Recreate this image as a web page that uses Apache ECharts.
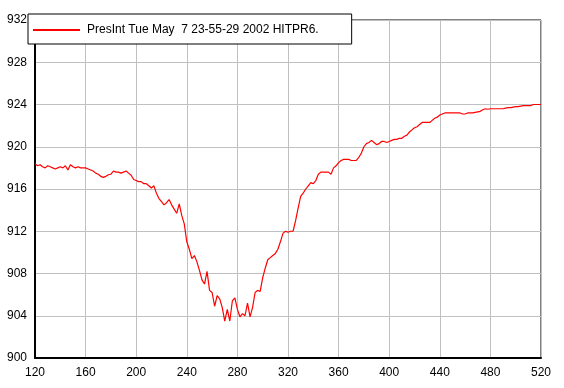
<!DOCTYPE html>
<html>
<head>
<meta charset="utf-8">
<script src="https://cdn.jsdelivr.net/npm/echarts@6/dist/echarts.min.js"></script>
<style>
html,body{margin:0;padding:0;background:#fff;}
#chart{width:564px;height:388px;}
</style>
</head>
<body>
<div id="chart"></div>
<script>
var seriesName = 'PresInt Tue May  7 23-55-29 2002 HITPR6.';
var xTicks = [120, 160, 200, 240, 280, 320, 360, 400, 440, 480, 520];
var yTicks = [900, 904, 908, 912, 916, 920, 924, 928, 932];
var times = [
120,122,124,126,128,130,132,134,136,138,140,142,144,146,148,150,152,154,156,158,
160,162,164,166,168,170,172,174,176,178,180,182,184,186,188,190,192,194,196,198,
200,202,204,206,208,210,212,214,216,218,220,222,224,226,228,230,232,234,236,238,
240,242,244,246,248,250,252,254,256,258,260,262,264,266,268,270,272,274,276,278,
280,282,284,286,288,290,292,294,296,298,300,302,304,306,308,310,312,314,316,318,
320,322,324,326,328,330,332,334,336,338,340,342,344,346,348,350,352,354,356,358,
360,362,364,366,368,370,372,374,376,378,380,382,384,386,388,390,392,394,396,398,
400,402,404,406,408,410,412,414,416,418,420,422,424,426,428,430,432,434,436,438,
440,442,444,446,448,450,452,454,456,458,460,462,464,466,468,470,472,474,476,478,
480,482,484,486,488,490,492,494,496,498,500,502,504,506,508,510,512,514,516,518,
520
];
var pressure = [
918.4,918.2,918.3,918.1,918.0,918.2,918.1,918.0,917.9,918.0,918.1,918.0,918.2,917.8,918.3,918.1,918.0,918.1,918.0,918.0,
918.0,917.9,917.8,917.7,917.5,917.4,917.2,917.1,917.2,917.35,917.4,917.7,917.6,917.6,917.5,917.6,917.7,917.5,917.3,916.9,
916.8,916.7,916.7,916.5,916.5,916.3,916.1,916.3,915.6,915.1,914.8,914.5,914.7,915.0,914.5,914.1,913.7,914.6,913.5,912.7,
911.0,910.3,909.4,909.7,909.1,908.3,907.4,907.0,908.2,906.4,906.2,904.9,905.9,905.6,904.8,903.5,904.6,903.5,905.4,905.7,
904.6,903.9,904.2,904.0,905.2,903.9,904.8,906.2,906.4,906.3,907.6,908.5,909.3,909.5,909.7,909.9,910.3,911.0,911.8,912.0,
911.9,912.0,912.0,913.0,914.2,915.3,915.6,916.0,916.3,916.6,916.5,916.8,917.4,917.6,917.6,917.6,917.6,917.4,918.0,918.2,
918.5,918.7,918.8,918.8,918.8,918.7,918.7,918.7,919.0,919.4,920.0,920.3,920.4,920.6,920.4,920.2,920.3,920.5,920.5,920.4,
920.5,920.6,920.7,920.7,920.8,920.8,921.0,921.1,921.4,921.6,921.8,921.9,922.1,922.3,922.3,922.3,922.3,922.5,922.7,922.8,
923.0,923.1,923.2,923.2,923.2,923.2,923.2,923.2,923.2,923.1,923.1,923.2,923.2,923.2,923.25,923.3,923.35,923.5,923.6,923.55,
923.6,923.6,923.6,923.6,923.6,923.6,923.65,923.7,923.7,923.75,923.8,923.8,923.85,923.9,923.9,923.9,923.9,924.0,924.0,924.0,
924.0
];

var data = times.map(function (t, i) { return [t, pressure[i]]; });
var font = 'Liberation Sans, Arial, sans-serif';
var chart = echarts.init(document.getElementById('chart'), null, {renderer: 'canvas'});
chart.setOption({
  animation: false,
  backgroundColor: '#ffffff',
  grid: {
    left: 35, right: 23, top: 20, bottom: 30,
    show: true, borderColor: '#000', borderWidth: 1, backgroundColor: 'transparent'
  },
  legend: {
    show: true,
    left: 28, top: 14,
    orient: 'horizontal',
    backgroundColor: '#ffffff',
    borderColor: '#000',
    borderWidth: 1,
    borderRadius: 0,
    padding: [10, 33, 8, 5],
    itemWidth: 47,
    itemHeight: 2,
    icon: 'rect',
    data: [seriesName],
    textStyle: {color: '#000', fontSize: 12, fontFamily: font, padding: [0, 0, 0, 2]}
  },
  xAxis: {
    type: 'value',
    min: xTicks[0], max: xTicks[xTicks.length - 1], interval: 40,
    axisLine: {show: true, onZero: false, lineStyle: {color: '#000', width: 2}},
    axisTick: {show: false},
    axisLabel: {color: '#000', fontSize: 12, fontFamily: font, margin: 9},
    splitLine: {show: true, lineStyle: {color: '#c0c0c0', width: 1}}
  },
  yAxis: {
    type: 'value',
    min: yTicks[0], max: yTicks[yTicks.length - 1], interval: 4,
    axisLine: {show: true, onZero: false, lineStyle: {color: '#000', width: 2}},
    axisTick: {show: false},
    axisLabel: {color: '#000', fontSize: 12, fontFamily: font, margin: 8},
    splitLine: {show: true, lineStyle: {color: '#c0c0c0', width: 1}}
  },
  series: [{
    name: seriesName,
    type: 'line',
    data: data,
    symbol: 'none',
    color: '#ff0000',
    lineStyle: {color: '#ff0000', width: 1.2},
    z: 3
  }]
});
</script>
</body>
</html>
